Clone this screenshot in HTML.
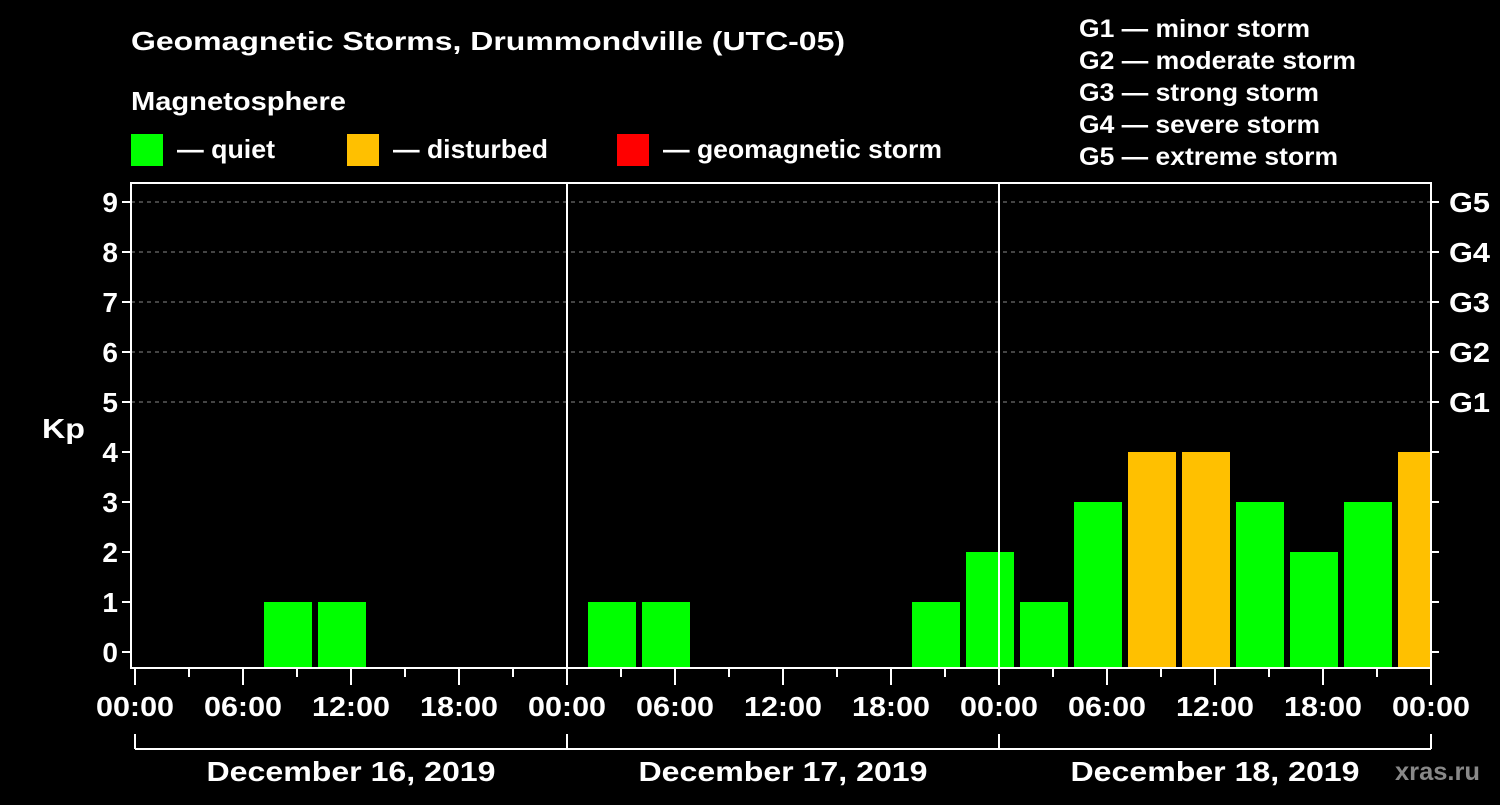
<!DOCTYPE html>
<html><head><meta charset="utf-8"><style>
html,body{margin:0;padding:0;background:#000;}
svg text{font-family:"Liberation Sans",sans-serif;font-weight:bold;fill:#fff;}
</style></head><body>
<svg id="chart" width="1500" height="800" viewBox="0 0 1500 800" xmlns="http://www.w3.org/2000/svg">
<rect width="1500" height="800" fill="#000"/>
<text x="131" y="50" font-size="26" textLength="714" lengthAdjust="spacingAndGlyphs">Geomagnetic Storms, Drummondville (UTC-05)</text>
<text x="131" y="110" font-size="26" textLength="215" lengthAdjust="spacingAndGlyphs">Magnetosphere</text>
<g><rect x="131" y="134" width="32" height="32" fill="#00ff00"/><text x="177" y="158" font-size="26" textLength="98" lengthAdjust="spacingAndGlyphs">— quiet</text></g>
<g><rect x="347" y="134" width="32" height="32" fill="#ffc000"/><text x="393" y="158" font-size="26" textLength="155" lengthAdjust="spacingAndGlyphs">— disturbed</text></g>
<g><rect x="617" y="134" width="32" height="32" fill="#ff0000"/><text x="663" y="158" font-size="26" textLength="279" lengthAdjust="spacingAndGlyphs">— geomagnetic storm</text></g>
<g font-size="25">
<text x="1079" y="37" textLength="231" lengthAdjust="spacingAndGlyphs">G1 — minor storm</text>
<text x="1079" y="69" textLength="277" lengthAdjust="spacingAndGlyphs">G2 — moderate storm</text>
<text x="1079" y="101" textLength="240" lengthAdjust="spacingAndGlyphs">G3 — strong storm</text>
<text x="1079" y="133" textLength="241" lengthAdjust="spacingAndGlyphs">G4 — severe storm</text>
<text x="1079" y="165" textLength="259" lengthAdjust="spacingAndGlyphs">G5 — extreme storm</text>
</g>
<text x="42" y="438" font-size="28" textLength="43" lengthAdjust="spacingAndGlyphs">Kp</text>
<g id="grid"></g><g id="bars"></g><g id="axes"></g>
<text x="1395" y="780" font-size="25" style="fill:#888" textLength="85" lengthAdjust="spacingAndGlyphs">xras.ru</text>
</svg>
<script>
const days = ["December 16, 2019","December 17, 2019","December 18, 2019"];
const kpValues = [0,0,1,1,0,0,0,0, 1,1,0,0,0,0,1,2, 1,3,4,4,3,2,3,4];
const yTicks = [0,1,2,3,4,5,6,7,8,9];
const gLabels = ["G1","G2","G3","G4","G5"];
const xTickLabels = ["00:00","06:00","12:00","18:00"];
const NS="http://www.w3.org/2000/svg";
const X0=135, DAY=432, LEFT=131, RIGHT=1431, TOP=183, BOTTOM=668;
const x=h=>X0+h*(DAY/24);
const y=v=>652-v*50;
function mk(tag,attrs,parent){const e=document.createElementNS(NS,tag);for(const k in attrs)e.setAttribute(k,attrs[k]);parent.appendChild(e);return e;}
const grid=document.getElementById('grid'),bars=document.getElementById('bars'),axes=document.getElementById('axes');
for(let v=5;v<=9;v++){const l=mk('line',{x1:LEFT,x2:RIGHT,y1:y(v),y2:y(v),stroke:'#888','stroke-dasharray':'4,4','stroke-width':1},grid);

}
kpValues.forEach((v,i)=>{if(v<=0)return;
const col=v>=5?'#ff0000':(v>=4?'#ffc000':'#00ff00');
const x1=x(i*3)+21;const x2=Math.min(x1+48,RIGHT-1);
const r=mk('rect',{x:x1,y:y(v),width:x2-x1,height:BOTTOM-y(v),fill:col},bars);

});
mk('rect',{x:LEFT,y:TOP,width:RIGHT-LEFT,height:BOTTOM-TOP,fill:'none',stroke:'#fff','stroke-width':2},axes);
for(let d=1;d<days.length;d++){const l=mk('line',{x1:x(d*24),x2:x(d*24),y1:TOP,y2:BOTTOM,stroke:'#fff','stroke-width':2},axes);

}
yTicks.forEach(v=>{mk('line',{x1:LEFT-9,x2:LEFT,y1:y(v),y2:y(v),stroke:'#fff','stroke-width':2},axes);
mk('line',{x1:RIGHT,x2:RIGHT+8,y1:y(v),y2:y(v),stroke:'#fff','stroke-width':2},axes);
const t=mk('text',{x:LEFT-13,y:y(v)+10,'font-size':28,'text-anchor':'end'},axes);t.textContent=v;

});
gLabels.forEach((g,i)=>{const t=mk('text',{x:1449,y:y(5+i)+10,'font-size':28,textLength:41,lengthAdjust:'spacingAndGlyphs'},axes);t.textContent=g;

});
for(let h=0;h<=days.length*24;h+=3){const big=h%6===0;
mk('line',{x1:x(h),x2:x(h),y1:BOTTOM,y2:BOTTOM+(big?17:9),stroke:'#fff','stroke-width':2},axes);
if(big){const t=mk('text',{x:x(h),y:716,'font-size':28,'text-anchor':'middle',textLength:78,lengthAdjust:'spacingAndGlyphs'},axes);t.textContent=xTickLabels[(h%24)/6];

}}
mk('line',{x1:x(0),x2:x(days.length*24),y1:749,y2:749,stroke:'#fff','stroke-width':2},axes);
for(let d=0;d<=days.length;d++)mk('line',{x1:x(d*24),x2:x(d*24),y1:734,y2:749,stroke:'#fff','stroke-width':2},axes);
days.forEach((d,i)=>{const t=mk('text',{x:x(i*24+12),y:781,'font-size':28,'text-anchor':'middle',textLength:289,lengthAdjust:'spacingAndGlyphs'},axes);t.textContent=d;

});
</script>
</body></html>
